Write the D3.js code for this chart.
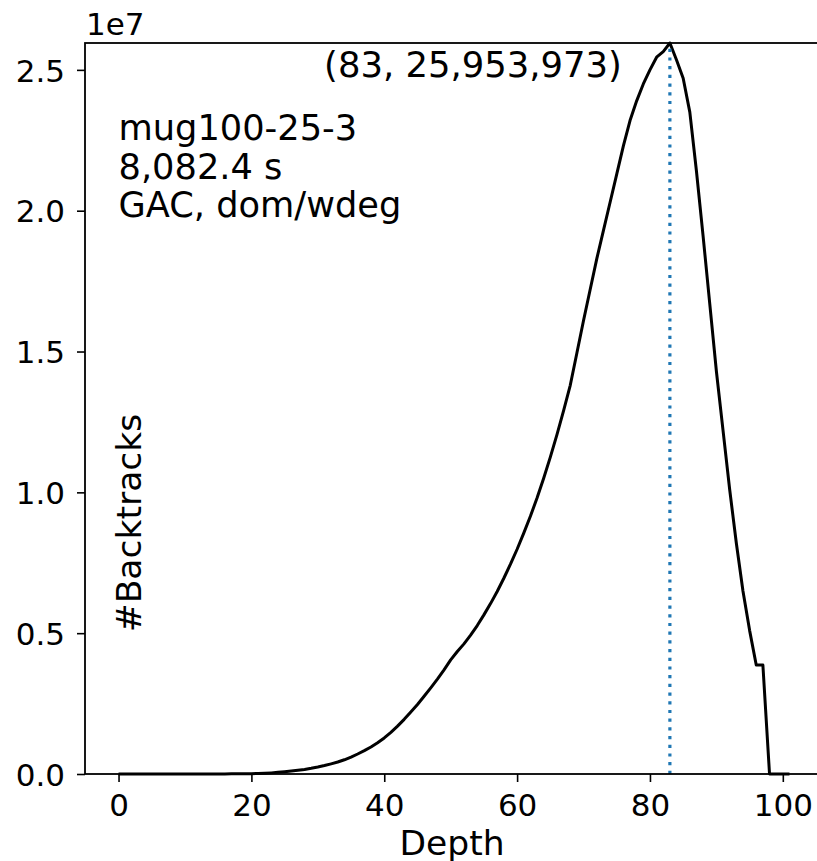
<!DOCTYPE html>
<html lang="en">
    <head>
        <meta charset="UTF-8" />
        <title>Backtracks per depth</title>
        <style>
            html,
            body {
                margin: 0;
                background: #fff;
            }
            svg text {
                font-family: "DejaVu Sans", sans-serif;
                fill: #000;
            }
        </style>
    </head>
    <body>
        <div id="chart"></div>
        <script src="https://cdn.jsdelivr.net/npm/d3@7"></script>
        <script>
            // depth -> number of backtracks
            const depths = d3.range(0, 102);
            const backtracks = [
                0, 0, 0, 0, 0, 0, 0, 0, 0, 0,
                1000, 1500, 2000, 2500, 3000, 3500, 4000, 4500, 5000, 8000,
                12000, 18000, 27000, 40000, 58000, 80000, 104000, 131000, 163000, 202000,
                248000, 300000, 360000, 425000, 505000, 600000, 710000, 830000, 960000, 1110000,
                1280000, 1480000, 1700000, 1940000, 2200000, 2470000, 2760000, 3060000, 3370000, 3700000,
                4050000, 4350000, 4620000, 4930000, 5270000, 5650000, 6050000, 6480000, 6950000, 7450000,
                7980000, 8550000, 9150000, 9800000, 10500000, 11250000, 12050000, 12900000, 13800000, 14950000,
                16100000, 17200000, 18300000, 19300000, 20300000, 21300000, 22300000, 23200000, 23900000, 24500000,
                25000000, 25450000, 25650000, 25953973, 25350000, 24700000, 23500000, 21400000, 19100000, 16700000,
                14300000, 12200000, 10100000, 8200000, 6500000, 5100000, 3870000, 3870000, 0, 0,
                0, 0
            ];
            const infoLines = ["mug100-25-3", "8,082.4 s", "GAC, dom/wdeg"];
            const xTicks = [0, 20, 40, 60, 80, 100];
            const yTicks = [0, 5e6, 10e6, 15e6, 20e6, 25e6];

            const width = 817;
            const height = 861;
            const margin = { left: 85, top: 43, right: 823, bottom: 774 };

            const peakIdx = d3.maxIndex(backtracks);
            const peakDepth = depths[peakIdx];
            const peakVal = backtracks[peakIdx];

            const x = d3
                .scaleLinear()
                .domain([-5.05, 106.05])
                .range([margin.left, margin.right]);
            const y = d3
                .scaleLinear()
                .domain([0, peakVal])
                .range([margin.bottom, margin.top]);

            const svg = d3
                .select("#chart")
                .append("svg")
                .attr("width", width)
                .attr("height", height);

            // line
            const line = d3
                .line()
                .x((d, i) => x(depths[i]))
                .y(d => y(d));

            svg.append("path")
                .datum(backtracks)
                .attr("d", line)
                .attr("fill", "none")
                .attr("stroke", "#000")
                .attr("stroke-width", 3)
                .attr("stroke-linejoin", "round");

            // peak marker
            svg.append("line")
                .attr("x1", x(peakDepth))
                .attr("x2", x(peakDepth))
                .attr("y1", y(0))
                .attr("y2", y(peakVal))
                .attr("stroke", "#1f77b4")
                .attr("stroke-width", 3.2)
                .attr("stroke-dasharray", "3.2,5.5");

            // axes
            const xAxis = svg
                .append("g")
                .attr("transform", `translate(0,${margin.bottom})`)
                .call(d3.axisBottom(x).tickValues(xTicks).tickSize(8).tickPadding(0).tickFormat(d3.format("d")));
            xAxis.selectAll("text").attr("y", 42).attr("dy", null).attr("font-size", 31);

            const yAxis = svg
                .append("g")
                .attr("transform", `translate(${margin.left},0)`)
                .call(d3.axisLeft(y).tickValues(yTicks).tickSize(8).tickFormat(d => (d / 1e7).toFixed(1)));
            yAxis.selectAll("text").attr("x", -20).attr("dy", "0.36em").attr("font-size", 31);

            [xAxis, yAxis].forEach(a => {
                a.select(".domain").remove();
                a.selectAll(".tick line").attr("stroke", "#000").attr("stroke-width", 1.6);
                a.attr("font-family", null);
            });

            // frame
            svg.append("rect")
                .attr("x", margin.left)
                .attr("y", margin.top)
                .attr("width", margin.right - margin.left)
                .attr("height", margin.bottom - margin.top)
                .attr("fill", "none")
                .attr("stroke", "#000")
                .attr("stroke-width", 1.8);

            // offset text
            svg.append("text")
                .attr("x", margin.left + 1)
                .attr("y", 35)
                .attr("font-size", 31)
                .text("1e7");

            // labels
            svg.append("text")
                .attr("x", (margin.left + margin.right) / 2 - 2)
                .attr("y", 855)
                .attr("text-anchor", "middle")
                .attr("font-size", 34.5)
                .text("Depth");

            svg.append("text")
                .attr("transform", `translate(141,523) rotate(-90)`)
                .attr("text-anchor", "middle")
                .attr("font-size", 34.5)
                .text("#Backtracks");

            // annotation of the peak
            svg.append("text")
                .attr("x", x(peakDepth) - 48)
                .attr("y", 77)
                .attr("text-anchor", "end")
                .attr("font-size", 35.4)
                .text(`(${peakDepth}, ${d3.format(",")(peakVal)})`);

            // info block
            svg.append("g")
                .selectAll("text")
                .data(infoLines)
                .join("text")
                .attr("x", x(0))
                .attr("y", (d, i) => 140 + i * 38.5)
                .attr("font-size", 35.2)
                .text(d => d);
        </script>
    </body>
</html>
